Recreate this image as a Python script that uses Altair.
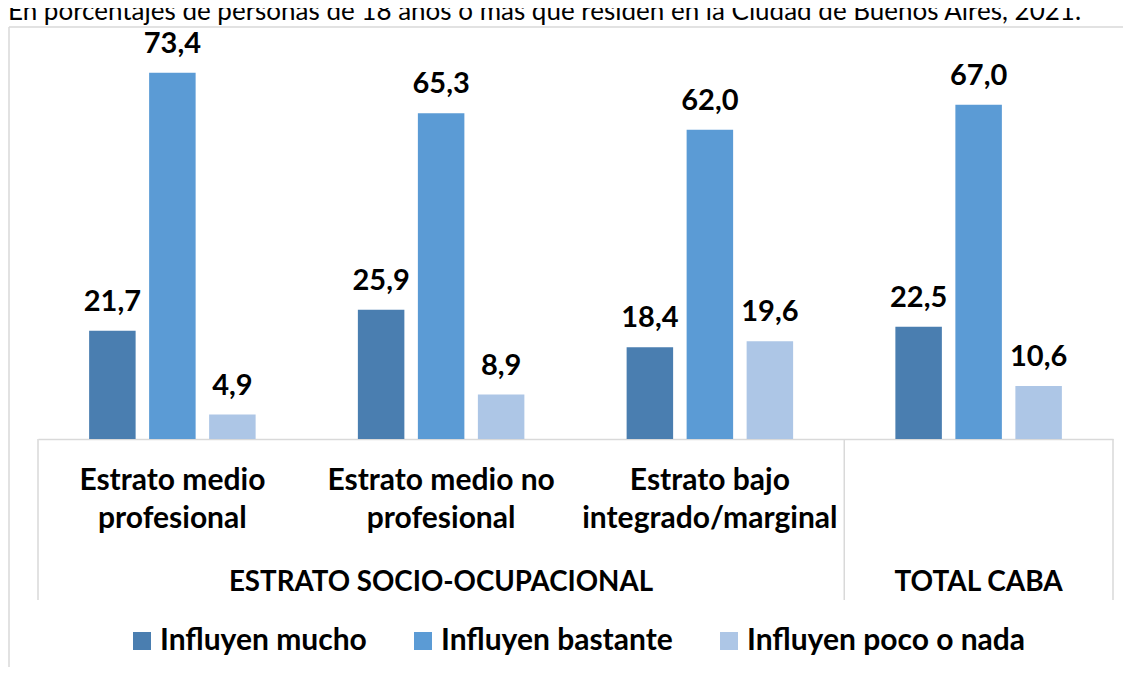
import altair as alt
import pandas as pd

# ---- data ----
categories = ["Estrato medio profesional", "Estrato medio no profesional",
              "Estrato bajo integrado/marginal", "TOTAL CABA"]
cat_labels = ["Estrato medio\nprofesional", "Estrato medio no\nprofesional",
              "Estrato bajo\nintegrado/marginal"]
series = ["Influyen mucho", "Influyen bastante", "Influyen poco o nada"]
mucho = [21.7, 25.9, 18.4, 22.5]
bastante = [73.4, 65.3, 62.0, 67.0]
poco = [4.9, 8.9, 19.6, 10.6]
colors = ["#4a7eb0", "#5b9bd5", "#adc6e6"]
subtitle = "En porcentajes de personas de 18 años o más que residen en la Ciudad de Buenos Aires, 2021."
group_label_main = "ESTRATO SOCIO-OCUPACIONAL"
group_label_total = "TOTAL CABA"

rows = []
for s, vals in zip(series, [mucho, bastante, poco]):
    for c, v in zip(categories, vals):
        rows.append({"cat": c, "serie": s, "value": v,
                     "label": f"{v:.1f}".replace(".", ",")})
df = pd.DataFrame(rows)

FONT = "Lato"
GRID = "#d9d9d9"

x_enc = alt.X("cat:N", sort=categories,
              scale=alt.Scale(paddingInner=0, paddingOuter=0),
              axis=alt.Axis(labels=False, ticks=False, title=None, grid=False,
                            domainColor=GRID, domainWidth=1.5))
xoff = alt.XOffset("serie:N", sort=series,
                   scale=alt.Scale(paddingInner=0.225, paddingOuter=0.852))
y_enc = alt.Y("value:Q", scale=alt.Scale(domain=[0, 86], nice=False), axis=None)

bars = alt.Chart(df).mark_bar().encode(
    x=x_enc, xOffset=xoff, y=y_enc,
    color=alt.Color("serie:N", sort=series,
                    scale=alt.Scale(domain=series, range=colors),
                    legend=alt.Legend(orient="none", legendX=89, legendY=616,
                                      direction="horizontal", title=None,
                                      symbolType="square", symbolSize=324,
                                      symbolStrokeWidth=0, labelFont=FONT,
                                      labelFontSize=30, labelFontWeight="bold",
                                      labelColor="black", labelLimit=600,
                                      columnPadding=41, labelOffset=3, padding=0)),
)

values = alt.Chart(df).mark_text(font=FONT, fontSize=29, fontWeight="bold",
                                 color="black", dy=-20, baseline="alphabetic").encode(
    x=alt.X("cat:N", sort=categories), xOffset=alt.XOffset("serie:N", sort=series),
    y="value:Q", text="label:N")

cat_df = pd.DataFrame({"cat": categories[:3], "lab": cat_labels})
cats = alt.Chart(cat_df).mark_text(font=FONT, fontSize=30, fontWeight="bold",
                                   color="black", baseline="alphabetic",
                                   lineBreak="\n", lineHeight=38).encode(
    x=alt.X("cat:N", sort=categories), y=alt.value(480), text="lab:N")

tot_df = pd.DataFrame({"cat": [categories[3]], "lab": [group_label_total]})
tot = alt.Chart(tot_df).mark_text(font=FONT, fontSize=28, fontWeight="bold",
                                  color="black", baseline="alphabetic").encode(
    x=alt.X("cat:N", sort=categories), y=alt.value(581), text="lab:N")

main_df = pd.DataFrame({"lab": [group_label_main]})
main_lab = alt.Chart(main_df).mark_text(font=FONT, fontSize=27.7, fontWeight="bold",
                                        color="black", baseline="alphabetic").encode(
    x=alt.value(403), y=alt.value(581), text="lab:N")

sep_start = alt.Chart(pd.DataFrame({"cat": [categories[0], categories[3]]})).mark_rule(
    color=GRID, strokeWidth=1.5).encode(
    x=alt.X("cat:N", sort=categories, bandPosition=0), y=alt.value(429), y2=alt.value(590))
sep_end = alt.Chart(pd.DataFrame({"cat": [categories[3]]})).mark_rule(
    color=GRID, strokeWidth=1.5).encode(
    x=alt.X("cat:N", sort=categories, bandPosition=1), y=alt.value(429), y2=alt.value(590))

one = pd.DataFrame({"a": [0]})
frame_left = alt.Chart(one).mark_rule(color=GRID, strokeWidth=1.5).encode(
    x=alt.value(-29), y=alt.value(17), y2=alt.value(665))
frame_top = alt.Chart(one).mark_rule(color=GRID, strokeWidth=1.5).encode(
    x=alt.value(-29), x2=alt.value(1085), y=alt.value(17))

sub = alt.Chart(pd.DataFrame({"t": [subtitle]})).mark_text(
    font=FONT, fontSize=26, color="black", align="left", baseline="alphabetic").encode(
    x=alt.value(-30), y=alt.value(10), text="t:N")

chart = alt.layer(frame_left, frame_top, sub, sep_start, sep_end, bars, values,
                  cats, tot, main_lab).properties(
    width=1075, height=429,
    padding={"left": 30, "top": 2, "right": 10, "bottom": 228},
    autosize=alt.AutoSizeParams(type="none"),
).configure_view(stroke=None)

chart.save("out.html", embed_options={"renderer": "svg", "actions": False})
